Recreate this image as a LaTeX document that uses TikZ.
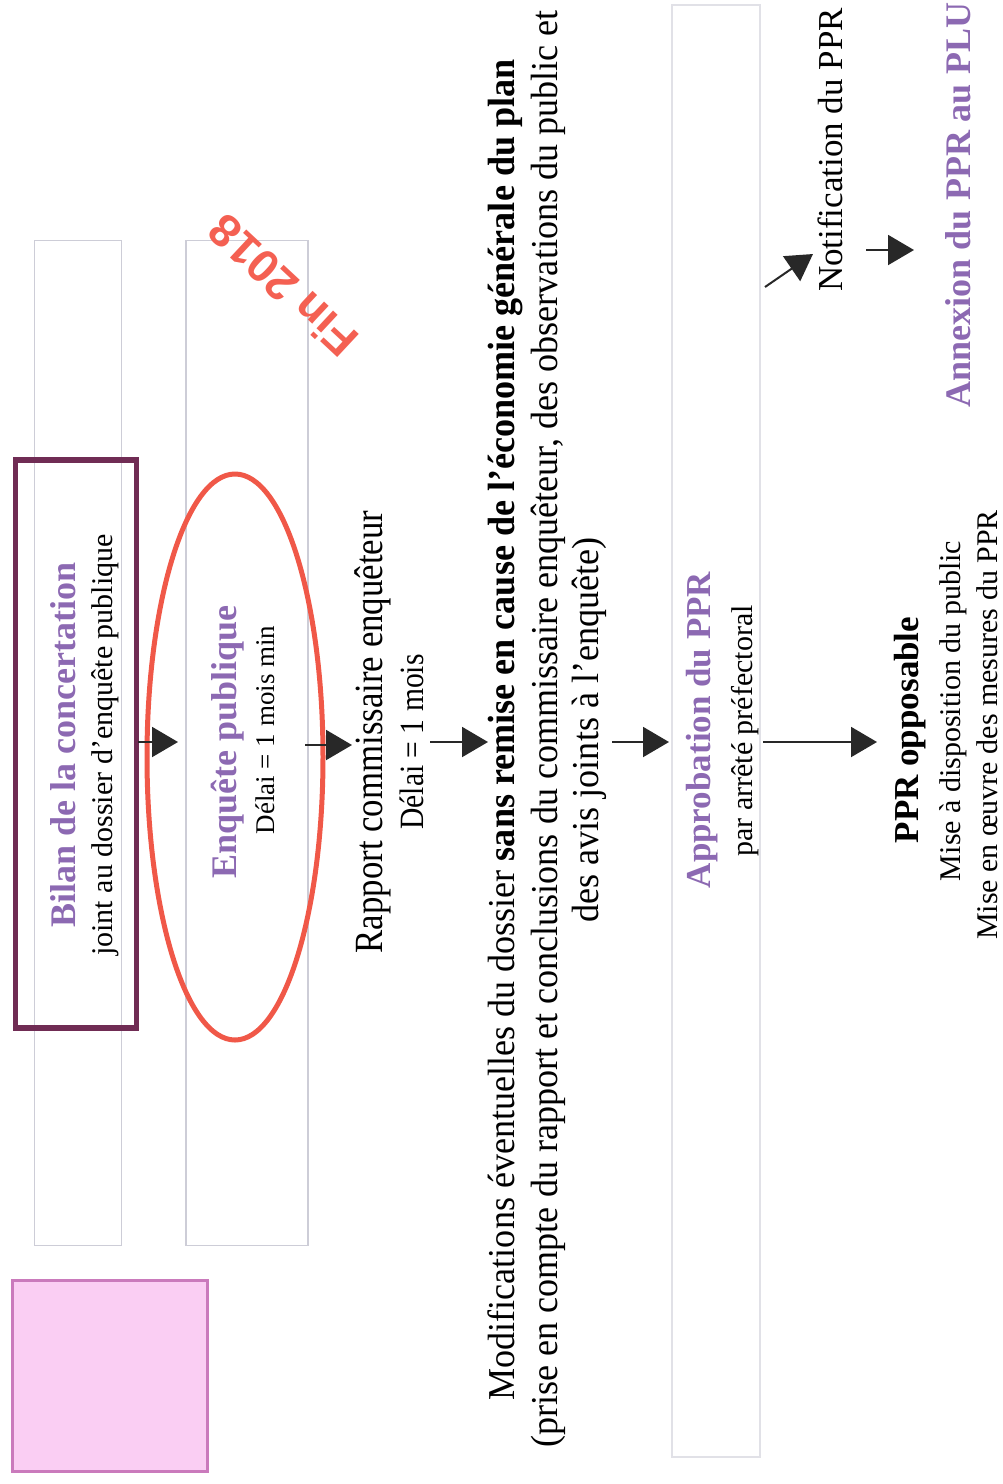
\documentclass[tikz,border=0pt]{standalone}
\usepackage{fontspec}
\setmainfont{Liberation Serif}
\newfontfamily\cond[FakeStretch=0.87]{Liberation Serif}
\newfontfamily\condm[FakeStretch=0.95]{Liberation Serif}
\newfontfamily\finfont{Liberation Sans}
\usetikzlibrary{arrows.meta,shapes.geometric}
\definecolor{ppurple}{RGB}{140,105,178}
\definecolor{maroonbox}{RGB}{112,44,84}
\definecolor{redell}{RGB}{240,88,72}
\definecolor{finred}{RGB}{244,96,82}
\definecolor{pinkfill}{RGB}{250,206,243}
\definecolor{pinkdraw}{RGB}{202,122,188}
\definecolor{ghostgray}{RGB}{205,205,215}
\definecolor{arrowgray}{RGB}{40,40,40}
\begin{document}
\begin{tikzpicture}[x=1pt,y=1pt,
  vtext/.style={rotate=90, inner sep=0pt, align=center},
  arr/.style={draw=arrowgray, line width=2pt, -{Triangle[length=26pt,width=30pt]}},
  ghost/.style={draw=ghostgray, line width=1.3pt}]
\useasboundingbox (0,0) rectangle (1003,-1484);
% faint background columns
\node[ghost, minimum width=87pt, minimum height=1005pt, inner sep=0pt] (colA) at (78,-743) {};
\node[ghost, minimum width=122pt, minimum height=1005pt, inner sep=0pt] (colB) at (247,-743) {};
\node[ghost, draw=ghostgray!60, minimum width=88pt, minimum height=1452pt, inner sep=0pt] (colC) at (716,-731) {};
% pink square
\node[draw=pinkdraw, fill=pinkfill, line width=2.5pt, minimum width=195pt, minimum height=191pt, inner sep=0pt] (pink) at (110,-1376) {};
% Bilan box
\node[draw=maroonbox, line width=5.5pt, minimum width=121pt, minimum height=568pt, inner sep=0pt] (bilanbox) at (76,-744) {};
% red ellipse
\node[ellipse, draw=redell, line width=5pt, minimum width=176pt, minimum height=566pt, inner sep=0pt] (enqell) at (235,-757) {};
% texts
\node[vtext, text=ppurple, font=\fontsize{36}{40}\selectfont\bfseries] (bilan) at (63,-745) {Bilan de la concertation};
\node[vtext, font=\fontsize{30}{34}\selectfont] (joint) at (105,-745) {joint au dossier d’enquête publique};
\node[vtext, text=ppurple, font=\fontsize{36}{40}\selectfont\bfseries] (enq) at (228,-742) {Enquête publique};
\node[vtext, font=\fontsize{27}{30}\selectfont] (delai1) at (265,-730) {Délai = 1 mois min};
\node[vtext, font=\cond\fontsize{40}{44}\selectfont] (rapport) at (373,-732) {Rapport commissaire enquêteur};
\node[vtext, font=\cond\fontsize{34}{38}\selectfont] (delai2) at (412,-742) {Délai = 1 mois};
\node[vtext, font=\condm\fontsize{38}{42}\selectfont] (modif1) at (505,-730) {Modifications éventuelles du dossier \textbf{sans remise en cause de l’économie générale du plan}};
\node[vtext, font=\condm\fontsize{38}{42}\selectfont] (modif2) at (548,-729) {(prise en compte du rapport et conclusions du commissaire enquêteur, des observations du public et};
\node[vtext, font=\condm\fontsize{38}{42}\selectfont] (modif3) at (589,-730) {des avis joints à l’enquête)};
\node[vtext, text=ppurple, font=\fontsize{35}{40}\selectfont\bfseries] (approb) at (702,-730) {Approbation du PPR};
\node[vtext, font=\fontsize{30}{34}\selectfont] (arrete) at (745,-731) {par arrêté préfectoral};
\node[vtext, font=\fontsize{35}{40}\selectfont\bfseries] (oppos) at (910,-730) {PPR opposable};
\node[vtext, font=\fontsize{30}{34}\selectfont] (mise1) at (953,-711) {Mise à disposition du public};
\node[vtext, font=\fontsize{30}{34}\selectfont] (mise2) at (987,-725) {Mise en œuvre des mesures du PPR};
\node[vtext, font=\fontsize{35}{40}\selectfont] (notif) at (830,-150) {Notification du PPR};
\node[vtext, text=ppurple, font=\fontsize{36}{40}\selectfont\bfseries] (annex) at (958,-205) {Annexion du PPR au PLU};
\node[rotate=137, text=finred, inner sep=0pt, font=\finfont\fontsize{46}{50}\selectfont\bfseries] (fin) at (283,-286) {Fin 2018};
% arrow end points
\coordinate (a1s) at (138,-742); \coordinate (a1e) at (178,-742);
\coordinate (a2s) at (305,-745); \coordinate (a2e) at (352,-745);
\coordinate (a3s) at (430,-742); \coordinate (a3e) at (488,-742);
\coordinate (a4s) at (612,-742); \coordinate (a4e) at (669,-742);
\coordinate (a5s) at (763,-742); \coordinate (a5e) at (877,-742);
\coordinate (a6s) at (765,-287); \coordinate (a6e) at (813,-254);
\coordinate (a7s) at (866,-250); \coordinate (a7e) at (914,-250);
\draw[arr] (a1s) -- (a1e);
\draw[arr] (a2s) -- (a2e);
\draw[arr] (a3s) -- (a3e);
\draw[arr] (a4s) -- (a4e);
\draw[arr] (a5s) -- (a5e);
\draw[arr] (a6s) -- (a6e);
\draw[arr] (a7s) -- (a7e);
\end{tikzpicture}
\end{document}
